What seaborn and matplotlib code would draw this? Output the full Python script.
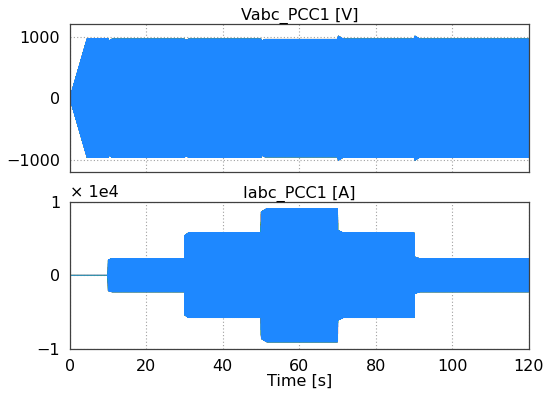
import numpy as np
import pandas as pd
import matplotlib
matplotlib.use("Agg")
import matplotlib.pyplot as plt
import seaborn as sns

# --- DATA ---
F_GRID = 50.0  # Hz

# voltage envelope knots [s] -> peak [V]
v_env_t = [0.0, 4.5, 10.0, 10.3, 11.0, 30.0, 30.3, 31.0, 50.0, 50.3, 51.0, 70.0, 70.2, 71.5, 90.0, 90.2, 91.5, 120.0]
v_env_a = [0.0, 965, 965, 930, 960, 960, 935, 960, 960, 930, 955, 955, 1010, 960, 960, 1010, 960, 960]

# current envelope knots [s] -> peak [A]
i_env_t = [0.0, 10.0, 10.05, 11.0, 30.0, 30.05, 31.0, 50.0, 50.05, 51.5, 70.0, 70.05, 71.5, 90.0, 90.05, 91.5, 120.0]
i_env_a = [0.0, 0.0, 2100, 2250, 2250, 5400, 5750, 5750, 8600, 9050, 9050, 6100, 5750, 5750, 2500, 2250, 2250]

phases = ["a", "b", "c"]
phase_colors = {"a": "#ff2020", "b": "#20c020", "c": "#1e88ff"}
phase_shift = {"a": 0.0, "b": -2 * np.pi / 3, "c": 2 * np.pi / 3}

# --- BUILD WAVEFORMS ---
t = np.arange(0.0, 120.0, 0.00213)
v_env = np.interp(t, v_env_t, v_env_a)
i_env = np.interp(t, i_env_t, i_env_a)

rows = []
for ph in phases:
    w = 2 * np.pi * F_GRID * t + phase_shift[ph]
    rows.append(pd.DataFrame({"t": t, "v": v_env * np.sin(w),
                              "i": i_env * np.sin(w - 0.3), "phase": ph}))
df = pd.concat(rows, ignore_index=True)

# --- PLOT ---
sns.set_style("white")
plt.rcParams['font.family'] = ['DejaVu Sans']
plt.rcParams['font.size'] = 11.5
plt.rcParams['text.color'] = 'black'
plt.rcParams['xtick.color'] = 'black'
plt.rcParams['ytick.color'] = 'black'

fig = plt.figure(figsize=(5.59, 4.03), dpi=100)
ax1 = fig.add_axes([0.125, 0.573, 0.821, 0.367])
ax2 = fig.add_axes([0.125, 0.134, 0.821, 0.366])

for ax, col in [(ax1, "v"), (ax2, "i")]:
    sns.lineplot(data=df, x="t", y=col, hue="phase", palette=phase_colors,
                 estimator=None, sort=False, linewidth=0.6, legend=False, ax=ax)
    ax.set_xlim(0, 120)
    ax.set_xticks([0, 20, 40, 60, 80, 100, 120])
    ax.grid(True, linestyle=(0, (1, 2)), color="#a0a0a0", linewidth=0.8)
    ax.set_axisbelow(True)
    for s in ax.spines.values():
        s.set_color("#404040")
        s.set_linewidth(0.9)
    ax.tick_params(axis="both", direction="out", length=5, width=0.9,
                   color="#404040", labelcolor="black", labelsize=11.5, pad=2)
    ax.set_ylabel("")
    ax.set_xlabel("")

ax1.set_ylim(-1200, 1200)
ax1.set_yticks([-1000, 0, 1000])
ax1.set_yticklabels(["\u22121000", "0", "1000"])
ax1.tick_params(axis="x", bottom=False, labelbottom=False)
ax1.set_title("Vabc_PCC1 [V]", fontsize=11.5, pad=3, color="black")

ax2.set_ylim(-1e4, 1e4)
ax2.set_yticks([-1e4, 0, 1e4])
ax2.set_yticklabels(["\u22121", "0", "1"])
ax2.set_title("Iabc_PCC1 [A]", fontsize=11.5, pad=3, color="black")
ax2.text(0.0, 1.01, "\u00d7 1e4", transform=ax2.transAxes, fontsize=11.5,
         ha="left", va="bottom", color="black")
ax2.set_xlabel("Time [s]", fontsize=11.5, labelpad=0, color="black")

fig.savefig("out.png", dpi=100)
